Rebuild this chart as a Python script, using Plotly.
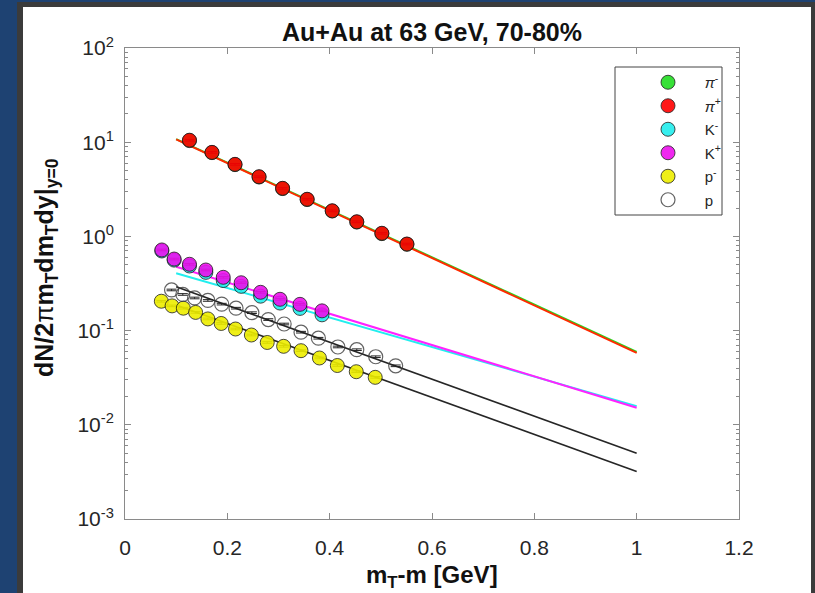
import plotly.graph_objects as go

# ---------------- data ----------------
pim_x = [0.126, 0.170, 0.215, 0.262, 0.308, 0.356, 0.405, 0.453, 0.502, 0.551]
pim_y = [10.4, 7.75, 5.78, 4.27, 3.22, 2.46, 1.86, 1.42, 1.07, 0.825]
pip_x = [0.126, 0.170, 0.215, 0.262, 0.308, 0.356, 0.405, 0.453, 0.502, 0.551]
pip_y = [10.5, 7.8, 5.82, 4.30, 3.24, 2.48, 1.87, 1.43, 1.08, 0.83]

km_x = [0.072, 0.096, 0.126, 0.158, 0.192, 0.227, 0.265, 0.303, 0.342, 0.385]
km_y = [0.70, 0.56, 0.485, 0.415, 0.34, 0.295, 0.232, 0.196, 0.172, 0.147]
kp_x = [0.072, 0.096, 0.126, 0.158, 0.192, 0.227, 0.265, 0.303, 0.342, 0.385]
kp_y = [0.718, 0.575, 0.506, 0.440, 0.368, 0.322, 0.255, 0.215, 0.190, 0.162]

pbar_x = [0.071, 0.092, 0.114, 0.138, 0.162, 0.188, 0.216, 0.247, 0.278, 0.310,
          0.344, 0.380, 0.415, 0.452, 0.489]
pbar_y = [0.205, 0.183, 0.173, 0.156, 0.133, 0.119, 0.104, 0.0898, 0.0748, 0.0681,
          0.0612, 0.0512, 0.0426, 0.0366, 0.0319]
p_x = [0.091, 0.113, 0.136, 0.162, 0.189, 0.217, 0.248, 0.280, 0.311, 0.344,
       0.378, 0.416, 0.453, 0.490, 0.529]
p_y = [0.270, 0.242, 0.222, 0.209, 0.191, 0.173, 0.155, 0.131, 0.1175, 0.0962,
       0.0830, 0.0670, 0.0627, 0.0528, 0.0423]

# fitted exponential lines (end points)
fit_x = [0.1, 1.0]
pim_fit = [10.8, 0.0595]
pip_fit = [10.7, 0.058]
km_fit = [0.406, 0.0158]
kp_fit = [0.476, 0.0152]
pbar_fit = [0.187, 0.0032]
p_fit = [0.292, 0.0050]

rel_err = 0.02

PAD = "\u00a0\u00a0\u00a0\u00a0"
names = [PAD + "<i>π</i><sup>-</sup>", PAD + "<i>π</i><sup>+</sup>", PAD + "K<sup>-</sup>",
         PAD + "K<sup>+</sup>", PAD + "p<sup>-</sup>", PAD + "p"]
x_ticks = [0, 0.2, 0.4, 0.6, 0.8, 1, 1.2]
x_ticktext = ["0", "0.2", "0.4", "0.6", "0.8", "1", "1.2"]
y_ticks = [1e-3, 1e-2, 1e-1, 1, 10, 100]
y_ticktext = ["10<sup>-3</sup>", "10<sup>-2</sup>", "10<sup>-1</sup>", "10<sup>0</sup>",
              "10<sup>1</sup>", "10<sup>2</sup>"]

# ---------------- figure ----------------
FONT = "Liberation Sans, Arial, sans-serif"
fig = go.Figure()

lines = [
    (pim_fit, "#22dd22", 2.0),
    (pip_fit, "#ff2a00", 2.0),
    (km_fit, "#22eeee", 2.0),
    (kp_fit, "#ff22ff", 2.0),
    (pbar_fit, "#262626", 1.6),
    (p_fit, "#262626", 1.6),
]
for yv, col, w in lines:
    fig.add_trace(go.Scatter(x=fit_x, y=yv, mode="lines", line=dict(color=col, width=w),
                             showlegend=False, hoverinfo="skip"))

series = [
    (pim_x, pim_y, "#22dd22", "circle"),
    (pip_x, pip_y, "#ff0000", "circle"),
    (km_x, km_y, "#22eeee", "circle"),
    (kp_x, kp_y, "#ee11ee", "circle"),
    (pbar_x, pbar_y, "#eeee00", "circle"),
    (p_x, p_y, "#505050", "circle-open"),
]
for i, (xs, ys, col, sym) in enumerate(series):
    if sym == "circle-open":
        mk = dict(symbol=sym, size=14, color="rgba(60,60,60,0.8)", line=dict(width=1.2))
    else:
        mk = dict(symbol=sym, size=14, color=col, opacity=0.9,
                  line=dict(color="rgba(20,20,20,0.85)", width=1))
    fig.add_trace(go.Scatter(
        x=xs, y=ys, mode="markers", name=names[i], marker=mk,
        error_y=dict(type="percent", value=rel_err * 100, color="#222", thickness=1, width=5),
        legendgroup=str(i), showlegend=True,
    ))

W, H = 815, 593
L, R, T, B = 125, 76, 48, 74
pw, ph = W - L - R, H - T - B


def px(xp):
    return (xp - L) / pw


def py(yp):
    return (H - B - yp) / ph


shapes = [
    dict(type="rect", xref="paper", yref="paper", x0=px(17), x1=px(830), y0=py(620), y1=py(2),
         fillcolor="#3b3b3b", line=dict(width=0), layer="below"),
    dict(type="rect", xref="paper", yref="paper", x0=px(23), x1=px(811), y0=py(620), y1=py(7),
         fillcolor="white", line=dict(width=0), layer="below"),
    dict(type="rect", xref="paper", yref="paper", x0=px(615), x1=px(722), y0=py(215), y1=py(67),
         fillcolor="rgba(0,0,0,0)", line=dict(color="#444", width=1), layer="above"),
]

fig.update_layout(
    width=W, height=H,
    margin=dict(l=L, r=R, t=T, b=B),
    paper_bgcolor="#1e4272",
    plot_bgcolor="white",
    font=dict(family=FONT, color="#262626"),
    shapes=shapes,
    showlegend=True,
    legend=dict(x=px(648), y=py(66), xanchor="left", yanchor="top",
                bgcolor="rgba(0,0,0,0)", borderwidth=0,
                font=dict(size=15, family=FONT, color="#262626"),
                tracegroupgap=1, itemsizing="trace"),
    annotations=[
        dict(text="<b>Au+Au at 63 GeV, 70-80%</b>", xref="paper", yref="paper",
             x=0.5, y=py(32), xanchor="center", yanchor="middle", showarrow=False,
             font=dict(size=25, family=FONT, color="#111")),
        dict(text="<b>m<sub>T</sub>-m [GeV]</b>", xref="paper", yref="paper",
             x=0.5, y=py(576), xanchor="center", yanchor="middle", showarrow=False,
             font=dict(size=24, family=FONT, color="#111")),
        dict(text="<b>dN/2</b>π<b>m<sub>T</sub>dm<sub>T</sub>dy|<sub>y=0</sub></b>",
             xref="paper", yref="paper", x=px(46), y=py(268), xanchor="center",
             yanchor="middle", textangle=-90, showarrow=False,
             font=dict(size=25, family=FONT, color="#111")),
    ],
)

fig.update_xaxes(
    range=[0, 1.2], tickvals=x_ticks, ticktext=x_ticktext,
    showgrid=False, zeroline=False, showline=True, linecolor="#8a8a8a", linewidth=1,
    mirror="ticks", ticks="inside", ticklen=6, tickcolor="#8a8a8a",
    tickfont=dict(size=21, family=FONT, color="#262626"), ticklabelstandoff=10,
)
fig.update_yaxes(
    type="log", range=[-3, 2], tickvals=y_ticks, ticktext=y_ticktext,
    showgrid=False, zeroline=False, showline=True, linecolor="#8a8a8a", linewidth=1,
    mirror="ticks", ticks="inside", ticklen=6, tickcolor="#8a8a8a",
    tickfont=dict(size=21, family=FONT, color="#262626"), ticklabelstandoff=6,
    minor=dict(ticks="inside", ticklen=3, tickcolor="#8a8a8a", dtick="D1", showgrid=False),
)

fig.write_html("out.html")
